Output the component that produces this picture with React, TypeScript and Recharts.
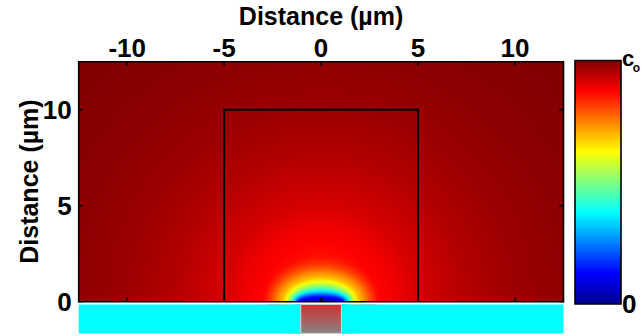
import React from 'react';
import {
  ComposedChart,
  Scatter,
  XAxis,
  YAxis,
  ReferenceArea,
  ReferenceLine,
  Label,
} from 'recharts';

const FONT = '"Liberation Sans", Arial, Helvetica, sans-serif';

// axes (µm)
const xRange = [-12.5, 12.5];
const yRange = [-1.65, 12.5];
const fieldTop = 12.5;
const xTicks = [-10, -5, 0, 5, 10];
const yTicks = [0, 5, 10];

// geometry
const boxX = [-5, 5];
const boxY = [0, 10];
const supportY = [-1.65, -0.14];
const electrodeX = [-1.05, 1.05];

// far field, roughly circular around the electrode: radius (µm) -> c/c0
const farRadius = [0, 2.0, 2.5, 3, 4, 5, 7.5, 10, 12.5, 15, 17.7];
const farValue = [0.84, 0.85, 0.865, 0.875, 0.893, 0.915, 0.95, 0.972, 0.984, 0.993, 1.0];

// near field contours (flattened over the disk): level, half width, height (µm)
const nearLevel = [0.85, 0.8, 0.75, 0.7, 0.65, 0.6, 0.55, 0.5, 0.45, 0.4, 0.35, 0.3, 0.25, 0.2, 0.15, 0.1, 0.05];
const nearHalfWidth = [2.8, 2.52, 2.28, 2.06, 1.87, 1.73, 1.64, 1.56, 1.5, 1.44, 1.39, 1.34, 1.28, 1.22, 1.17, 1.12, 1.08];
const nearHeight = [2.1, 1.8, 1.55, 1.32, 1.16, 1.0, 0.88, 0.78, 0.69, 0.6, 0.53, 0.46, 0.4, 0.33, 0.27, 0.2, 0.12];

// colorbar end points (c/c0)
const barRange = [0, 1];

// jet colormap
const jetPos = [0, 0.125, 0.375, 0.625, 0.875, 1];
const jetRgb = [
  [0, 0, 143],
  [0, 0, 255],
  [0, 255, 255],
  [255, 255, 0],
  [255, 0, 0],
  [128, 0, 0],
];

const jet = (v: number) => {
  const t = Math.min(1, Math.max(0, v));
  let i = 0;
  while (i < jetPos.length - 2 && t > jetPos[i + 1]) i++;
  const f = (t - jetPos[i]) / (jetPos[i + 1] - jetPos[i]);
  const c = jetRgb[i].map((a, k) => Math.round(a + (jetRgb[i + 1][k] - a) * f));
  return `rgb(${c[0]},${c[1]},${c[2]})`;
};

const boxPoints = [
  { x: boxX[0], y: boxY[0] },
  { x: boxX[0], y: boxY[1] },
  { x: boxX[1], y: boxY[1] },
  { x: boxX[1], y: boxY[0] },
];

const barPoints = barRange.map((v) => ({ x: v, y: v }));

// wider contours are further apart, so soften them more
const softFor = (lv: number) => (lv >= 0.7 ? 'soft3' : lv >= 0.5 ? 'soft2' : 'soft1');

const Oval = (p: any) => {
  const { x, y, width, height, color, blur, clipPath } = p;
  if (x == null || width == null) return null;
  return (
    <g clipPath={clipPath}>
      <ellipse
        cx={x + width / 2}
        cy={y + height / 2}
        rx={Math.abs(width) / 2}
        ry={Math.abs(height) / 2}
        fill={color}
        filter={`url(#${blur})`}
      />
    </g>
  );
};

const tickStyle = { fill: '#000', fontSize: 26, fontWeight: 'bold', fontFamily: FONT };

const YTitle = (props: any) => {
  const vb = props.viewBox || {};
  return (
    <text
      transform={`translate(${vb.x + 38}, ${vb.y + vb.height / 2 - 16}) rotate(-90)`}
      textAnchor="middle"
      fontSize={25}
      fontWeight="bold"
      fontFamily={FONT}
      fill="#000"
    >
      Distance (µm)
    </text>
  );
};

const BarTick = (props: any) => {
  const { x, y, payload } = props;
  if (payload.value === barRange[1]) {
    return (
      <text x={x + 1} y={y + 5} fontSize={22} fontWeight="bold" fontFamily={FONT} fill="#000">
        c<tspan fontSize={12} dx={-1.5} dy={6}>o</tspan>
      </text>
    );
  }
  return (
    <text x={x + 1} y={y + 9} fontSize={26} fontWeight="bold" fontFamily={FONT} fill="#000">
      0
    </text>
  );
};

const farSpan = farRadius[farRadius.length - 1];
const ySquash = (xRange[1] - xRange[0]) / fieldTop;

export default function App() {
  return (
    <div style={{ position: 'absolute', left: 0, top: 0, width: 642, height: 336, background: '#fff' }}>
      <div style={{ position: 'absolute', left: 0, top: 0 }}>
        <ComposedChart width={642} height={336} margin={{ top: 0, right: 78.5, bottom: 2.6, left: 0 }}>
          <defs>
            <radialGradient
              id="far"
              cx="0.5"
              cy="1"
              r={farSpan / (xRange[1] - xRange[0])}
              gradientTransform={`translate(0.5 1) scale(1 ${ySquash}) translate(-0.5 -1)`}
            >
              {farRadius.map((r, i) => (
                <stop key={i} offset={r / farSpan} stopColor={jet(farValue[i])} />
              ))}
            </radialGradient>
            <linearGradient id="electrode" x1="0" y1="0" x2="0" y2="1">
              <stop offset="0" stopColor="#cf3030" />
              <stop offset="1" stopColor="#888484" />
            </linearGradient>
            <filter id="soft1" x="-30%" y="-30%" width="160%" height="160%">
              <feGaussianBlur stdDeviation="1.1" />
            </filter>
            <filter id="soft2" x="-30%" y="-30%" width="160%" height="160%">
              <feGaussianBlur stdDeviation="1.6" />
            </filter>
            <filter id="soft3" x="-40%" y="-40%" width="180%" height="180%">
              <feGaussianBlur stdDeviation="3" />
            </filter>
          </defs>

          <XAxis
            type="number"
            dataKey="x"
            orientation="top"
            domain={xRange}
            ticks={xTicks}
            interval={0}
            allowDataOverflow
            height={61.7}
            axisLine={false}
            tickSize={-4}
            tickMargin={9}
            tickLine={{ stroke: '#000', strokeWidth: 1.5 }}
            tick={tickStyle}
          >
            <Label
              value="Distance (µm)"
              position="insideTop"
              offset={7}
              fontSize={25}
              fontWeight="bold"
              fontFamily={FONT}
              fill="#000"
            />
          </XAxis>
          <YAxis
            type="number"
            dataKey="y"
            domain={yRange}
            ticks={yTicks}
            interval={0}
            allowDataOverflow
            width={78.7}
            axisLine={false}
            tickSize={-4}
            tickMargin={11}
            tickLine={{ stroke: '#000', strokeWidth: 1.5 }}
            tick={tickStyle}
            label={<YTitle />}
          />

          <ReferenceArea
            x1={xRange[0]}
            x2={xRange[1]}
            y1={0}
            y2={fieldTop}
            fill="url(#far)"
            fillOpacity={1}
            stroke="none"
          />
          {nearLevel.map((lv, i) => (
            <ReferenceArea
              key={lv}
              x1={-nearHalfWidth[i]}
              x2={nearHalfWidth[i]}
              y1={-nearHeight[i]}
              y2={nearHeight[i]}
              ifOverflow="hidden"
              shape={(p: any) => <Oval {...p} color={jet(lv - 0.025)} blur={softFor(lv)} />}
            />
          ))}

          <ReferenceArea
            x1={xRange[0]}
            x2={xRange[1]}
            y1={supportY[1]}
            y2={0}
            fill="#ffffff"
            fillOpacity={1}
            stroke="none"
          />
          <ReferenceArea
            x1={xRange[0]}
            x2={xRange[1]}
            y1={supportY[0]}
            y2={supportY[1]}
            fill="#00ffff"
            fillOpacity={1}
            stroke="none"
          />
          <ReferenceArea
            x1={electrodeX[0]}
            x2={electrodeX[1]}
            y1={supportY[0]}
            y2={supportY[1]}
            fill="url(#electrode)"
            fillOpacity={1}
            stroke="#d8d8d8"
            strokeWidth={1}
          />
          <ReferenceArea
            x1={xRange[0]}
            x2={xRange[1]}
            y1={0}
            y2={fieldTop}
            fill="none"
            stroke="#000"
            strokeWidth={1.6}
          />

          {xTicks.map((t) => (
            <ReferenceLine
              key={`b${t}`}
              segment={[
                { x: t, y: 0 },
                { x: t, y: 0.22 },
              ]}
              stroke="#000"
              strokeWidth={1.5}
            />
          ))}
          {yTicks.map((t) => (
            <ReferenceLine
              key={`r${t}`}
              segment={[
                { x: xRange[1], y: t },
                { x: xRange[1] - 0.22, y: t },
              ]}
              stroke="#000"
              strokeWidth={1.5}
            />
          ))}

          <Scatter
            data={boxPoints}
            line={{ stroke: '#000', strokeWidth: 2 }}
            shape={() => <g />}
            legendType="none"
            isAnimationActive={false}
          />
        </ComposedChart>
      </div>

      <div style={{ position: 'absolute', left: 570, top: 0 }}>
        <ComposedChart width={72} height={336} margin={{ top: 60.5, right: 0, bottom: 32, left: 5 }}>
          <defs>
            <linearGradient id="jetbar" x1="0" y1="1" x2="0" y2="0">
              {jetPos.map((p, i) => (
                <stop key={i} offset={p} stopColor={jet(p)} />
              ))}
            </linearGradient>
          </defs>
          <XAxis type="number" dataKey="x" domain={barRange} hide allowDataOverflow />
          <YAxis
            type="number"
            dataKey="y"
            orientation="right"
            domain={barRange}
            ticks={barRange}
            interval={0}
            allowDataOverflow
            width={21}
            axisLine={false}
            tickLine={false}
            tickSize={0}
            tickMargin={0}
            tick={<BarTick />}
          />
          <ReferenceArea
            x1={barRange[0]}
            x2={barRange[1]}
            y1={barRange[0]}
            y2={barRange[1]}
            fill="url(#jetbar)"
            fillOpacity={1}
            stroke="#000"
            strokeWidth={1.6}
          />
          <Scatter data={barPoints} shape={() => <g />} legendType="none" isAnimationActive={false} />
        </ComposedChart>
      </div>
    </div>
  );
}
